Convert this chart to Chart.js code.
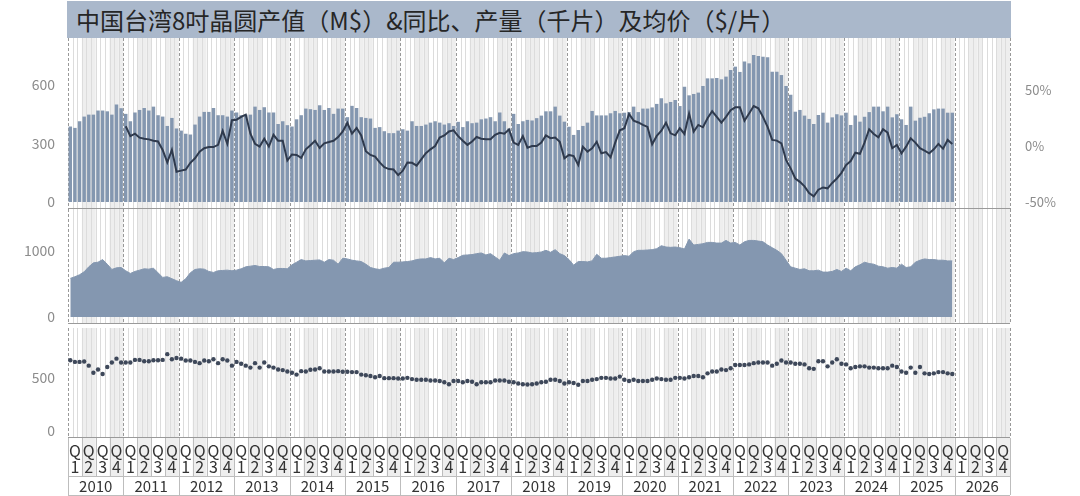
<!DOCTYPE html>
<html>
<head>
<meta charset="utf-8">
<script src="https://cdn.jsdelivr.net/npm/chart.js@4/dist/chart.umd.min.js"></script>
<style>
  body { margin: 0; background: #fff; width: 1080px; height: 496px; overflow: hidden; position: relative; }
  #title { position: absolute; left: 67px; top: 1px; width: 944px; height: 37px; background: #aab8cb; z-index: 5;
           font-family: "Noto Sans CJK SC", sans-serif; font-size: 24px; line-height: 37px; color: #262626; padding-left: 9px; box-sizing: border-box; }
  canvas { position: absolute; left: 0; }
</style>
</head>
<body>
<div id="title">中国台湾8吋晶圆产值（M$）&amp;同比、产量（千片）及均价（$/片）</div>
<canvas id="c1" width="1080" height="171" style="top:38px"></canvas>
<canvas id="c2" width="1080" height="115" style="top:209px"></canvas>
<canvas id="c3" width="1080" height="172" style="top:324px"></canvas>
<script>
// 年份、季度
const years = [2010, 2011, 2012, 2013, 2014, 2015, 2016, 2017, 2018, 2019, 2020, 2021, 2022, 2023, 2024, 2025, 2026];
const quarters = ["1", "2", "3", "4"];

// 月度类目
const monthLabels = [];
years.forEach(function (y) {
  for (let m = 1; m <= 12; m++) monthLabels.push(y + "-" + m);
});

// 产值（M$）
const outputValue = [
  387, 380, 414, 438, 448, 448, 469, 469, 465, 448, 500, 481,
  452, 414, 459, 472, 482, 469, 489, 445, 438, 390, 431, 377,
  366, 350, 346, 397, 438, 462, 462, 482, 445, 445, 438, 469,
  459, 445, 448, 448, 489, 472, 486, 459, 459, 400, 414, 394,
  387, 424, 445, 479, 476, 472, 496, 472, 482, 452, 479, 479,
  435, 493, 482, 435, 431, 428, 380, 384, 363, 353, 353, 366,
  373, 366, 414, 390, 390, 397, 407, 414, 407, 397, 404, 390,
  411, 384, 414, 404, 407, 424, 428, 435, 414, 459, 414, 377,
  452, 400, 414, 421, 418, 430, 443, 465, 465, 489, 443, 412,
  386, 344, 369, 390, 407, 467, 444, 444, 444, 455, 467, 455,
  458, 461, 489, 461, 479, 479, 485, 503, 532, 506, 513, 523,
  492, 591, 547, 554, 561, 595, 634, 634, 636, 629, 643, 677,
  694, 667, 720, 711, 754, 749, 745, 742, 668, 668, 651, 595,
  550, 463, 472, 443, 426, 400, 446, 458, 407, 434, 450, 444,
  458, 395, 444, 412, 437, 461, 489, 489, 465, 489, 434, 450,
  424, 395, 489, 417, 432, 437, 455, 475, 479, 479, 458, 458
];

// 产值同比（%）
const yoyGrowth = [
  null, null, null, null, null, null, null, null, null, null, null, null,
  17.6, 8.8, 11, 7.4, 6.5, 5.9, 4.7, 4, -3.5, -14.7, -3.5, -23,
  -22, -21, -15, -11, -5, -2, -1, -1, 1, 13.5, 2, 23,
  23.5, 26, 28, 11, 2, -0.5, 6.5, -0.5, 10, 4.7, 4.7, -13,
  -7.6, -8, -10.6, -3, 0.6, 4.7, -1.8, 2.4, 3.5, 4.7, 8, 13,
  20.6, 11, 16, 9.4, -4.7, -8, -9.4, -14.7, -19, -20.6, -21, -26,
  -22, -14.7, -15, -17.6, -12, -6.5, -3, 0, 7.6, 9.4, 13, 14,
  8.8, 4.7, 1, 4, 8, 6.5, 6, 6, 10, 11.8, 11, 14.7,
  3, 1, 8.8, -1.5, 0, 0, 3, 9.4, 7, 7.6, 3.8, -11,
  -8, -9, -17, -0.6, -5, -2, 3.8, -6.5, -5.4, -10, 3, 14,
  15.8, 28.6, 22.6, 21, 18.8, 17, 1.5, 9, 13.7, 20.8, 11.3, 9.5,
  15.8, 10.7, 29, 12.8, 18.8, 16.7, 24.7, 31, 26, 20.8, 26, 32,
  34.5, 34.5, 22.6, 29, 35.7, 33.6, 26, 17, 5.4, 4.8, 2.4, -12.5,
  -20, -29, -32, -36, -42, -45, -39, -37, -37.8, -33, -29, -24,
  -17, -13.4, -6, -7, 3, 14.9, 10.7, 7.7, 14.9, 11.9, -2, 0.9,
  -6.5, -0.6, 6.8, 3, -2, -4.2, -6.5, -3, 1.8, -2.4, 5.4, 1.8
];

// 产量（千片）
const waferVolume = [
  585, 610, 640, 685, 760, 820, 830, 870, 800, 720, 745, 750,
  700, 660, 690, 710, 730, 725, 740, 670, 600, 610, 580, 550,
  525, 580, 670, 720, 730, 725, 690, 675, 700, 705, 710, 700,
  710, 730, 760, 770, 780, 765, 765, 760, 720, 735, 735, 730,
  790, 830, 870, 850, 855, 860, 865, 830, 870, 860, 800, 890,
  880, 860, 850, 840, 800, 750, 730, 720, 740, 750, 830, 830,
  835, 840, 850, 870, 880, 880, 900, 880, 890, 820, 890, 870,
  900, 935, 940, 945, 960, 970, 940, 960, 910, 860, 970, 930,
  960, 970, 990, 985, 970, 975, 985, 1010, 980, 1020, 960, 930,
  870, 785, 840, 840, 835, 850, 950, 890, 890, 900, 910, 920,
  930, 920, 990, 1010, 1010, 1015, 1020, 1035, 1080, 1060, 1055, 1060,
  1050, 1030, 1180, 1090, 1100, 1110, 1130, 1130, 1120, 1120, 1160, 1120,
  1130, 1090, 1140, 1160, 1160, 1150, 1140, 1090, 1050, 1010, 960, 860,
  760, 740, 720, 730, 700, 700, 710, 680, 680, 690, 720, 690,
  740, 700, 760, 790, 830, 810, 800, 770, 760, 740, 750, 740,
  800, 750, 760, 830, 860, 880, 870, 870, 860, 860, 850, 850
];

// 均价（$/片）
const avgPrice = [
  672, 656, 656, 659, 620, 552, 583, 540, 607, 650, 687, 650,
  650, 650, 675, 675, 662, 662, 672, 672, 675, 730, 681, 693,
  687, 669, 669, 656, 644, 669, 662, 681, 644, 681, 669, 620,
  656, 638, 620, 601, 644, 601, 650, 613, 601, 583, 577, 564,
  552, 534, 567, 564, 580, 583, 595, 564, 564, 564, 567, 561,
  561, 558, 558, 534, 528, 521, 509, 521, 500, 500, 500, 497,
  497, 503, 491, 485, 485, 485, 478, 478, 472, 460, 442, 472,
  472, 460, 472, 466, 442, 460, 460, 460, 478, 478, 478, 466,
  460, 448, 442, 439, 442, 448, 460, 466, 485, 485, 472, 448,
  460, 454, 436, 472, 472, 485, 491, 503, 503, 497, 497, 515,
  485, 472, 485, 472, 472, 472, 485, 497, 491, 485, 485, 503,
  503, 497, 509, 521, 521, 509, 546, 564, 564, 583, 577, 595,
  626, 626, 626, 632, 644, 650, 650, 650, 620, 638, 669, 650,
  650, 638, 638, 632, 595, 589, 662, 662, 613, 650, 681, 638,
  632, 595, 607, 613, 613, 601, 601, 595, 595, 595, 620, 607,
  564, 552, 601, 552, 607, 546, 540, 546, 558, 558, 546, 540
];

// 刻度
const valueTicks = [0, 300, 600];
const yoyTicks = [-50, 0, 50];
const volumeTicks = [0, 1000];
const priceTicks = [0, 500];

const FONT = '"Noto Sans CJK SC", sans-serif';
const BAR = "#8497b0";

// 背景：季度灰带、月线、年份虚线
const bandPlugin = {
  id: "bands",
  beforeDatasetsDraw(chart) {
    const { ctx, chartArea: a, scales } = chart;
    const x = scales.x;
    ctx.save();
    for (let i = 0; i < monthLabels.length; i++) {
      const x0 = x.getPixelForValue(i - 0.5);
      const x1 = x.getPixelForValue(i + 0.5);
      if (Math.floor((i % 12) / 3) % 2 === 1) {
        ctx.fillStyle = "#eeeeee";
        ctx.fillRect(x0, a.top, x1 - x0, a.bottom - a.top);
      }
    }
    ctx.lineWidth = 1;
    for (let i = 0; i <= monthLabels.length; i++) {
      const px = Math.round(x.getPixelForValue(i - 0.5)) + 0.5;
      ctx.beginPath();
      if (i % 12 === 0) {
        ctx.strokeStyle = "#999999";
        ctx.setLineDash([3, 2]);
      } else {
        ctx.strokeStyle = "#dcdcdc";
        ctx.setLineDash([]);
      }
      ctx.moveTo(px, a.top);
      ctx.lineTo(px, a.bottom);
      ctx.stroke();
    }
    ctx.setLineDash([]);
    ctx.strokeStyle = "#9a9a9a";
    ctx.beginPath();
    ctx.moveTo(a.left, Math.round(a.bottom) - 0.5);
    ctx.lineTo(a.right, Math.round(a.bottom) - 0.5);
    ctx.stroke();
    ctx.restore();
  }
};

// 底部季度/年份表头
const tablePlugin = {
  id: "table",
  afterDraw(chart) {
    const { ctx, chartArea: a, scales } = chart;
    const x = scales.x;
    const top = a.bottom, mid = a.bottom + 38, bot = a.bottom + 57;
    ctx.save();
    for (let q = 0; q < years.length * 4; q++) {
      const x0 = x.getPixelForValue(q * 3 - 0.5);
      const x1 = x.getPixelForValue(q * 3 + 2.5);
      if (q % 2 === 1) {
        ctx.fillStyle = "#eeeeee";
        ctx.fillRect(x0, top, x1 - x0, mid - top);
      }
    }
    ctx.strokeStyle = "#bdbdbd";
    ctx.lineWidth = 1;
    for (let q = 0; q <= years.length * 4; q++) {
      const px = Math.round(x.getPixelForValue(q * 3 - 0.5)) + 0.5;
      ctx.beginPath();
      ctx.moveTo(px, top);
      ctx.lineTo(px, q % 4 === 0 ? bot : mid);
      ctx.stroke();
    }
    [mid, bot].forEach(function (yy) {
      ctx.beginPath();
      ctx.moveTo(a.left, yy + 0.5);
      ctx.lineTo(a.right, yy + 0.5);
      ctx.stroke();
    });
    ctx.fillStyle = "#333";
    ctx.textAlign = "center";
    ctx.textBaseline = "middle";
    ctx.font = "16px " + FONT;
    for (let q = 0; q < years.length * 4; q++) {
      const cx = x.getPixelForValue(q * 3 + 1);
      ctx.fillText("Q", cx, top + 13);
      ctx.fillText(quarters[q % 4], cx, top + 29);
    }
    ctx.font = "15px " + FONT;
    years.forEach(function (y, k) {
      ctx.fillText(String(y), x.getPixelForValue(k * 12 + 5.5), mid + 10);
    });
    ctx.restore();
  }
};

function fixedTicks(list) {
  return function (s) { s.ticks = list.map(function (v) { return { value: v }; }); };
}

function fitTo(w) {
  return function (s) { s.width = w; s.paddingTop = 0; s.paddingBottom = 0; };
}

function leftAxis(min, max, list) {
  return {
    position: "left", min: min, max: max,
    afterBuildTicks: fixedTicks(list),
    afterFit: fitTo(68),
    grid: { display: false, drawTicks: false },
    border: { display: false },
    ticks: { color: "#8c8c8c", padding: 13, font: { family: FONT, size: 14 },
             callback: function (v) { return String(v); } }
  };
}

const baseOptions = function (padBottom, padRight) {
  return {
    responsive: false,
    animation: false,
    layout: { padding: { top: 0, bottom: padBottom, left: 0, right: padRight } },
    plugins: { legend: { display: false }, tooltip: { enabled: false } },
    events: []
  };
};

// 图1：产值 + 同比
const opt1 = baseOptions(0, 0);
opt1.scales = {
  x: { display: false, offset: true },
  y: leftAxis(-36, 841, valueTicks),
  yPct: {
    position: "right", min: -56.25, max: 96.4,
    afterBuildTicks: fixedTicks(yoyTicks),
    afterFit: fitTo(70),
    grid: { display: false, drawTicks: false },
    border: { display: false },
    ticks: { color: "#8c8c8c", padding: 15, font: { family: FONT, size: 13 },
             callback: function (v) { return v + "%"; } }
  }
};
new Chart(document.getElementById("c1"), {
  data: {
    labels: monthLabels,
    datasets: [
      { type: "line", data: yoyGrowth, yAxisID: "yPct", borderColor: "#2f3a4d", borderWidth: 2,
        pointRadius: 0, tension: 0, order: 0 },
      { type: "bar", data: outputValue, yAxisID: "y", backgroundColor: BAR,
        barPercentage: 0.75, categoryPercentage: 1, order: 1 }
    ]
  },
  options: opt1,
  plugins: [bandPlugin]
});

// 图2：产量
const opt2 = baseOptions(0, 70);
opt2.scales = { x: { display: false, offset: true }, y: leftAxis(-106, 1636, volumeTicks) };
new Chart(document.getElementById("c2"), {
  type: "line",
  data: {
    labels: monthLabels,
    datasets: [
      { data: waferVolume, fill: "origin", backgroundColor: BAR, borderColor: BAR, borderWidth: 1,
        pointRadius: 0, tension: 0 }
    ]
  },
  options: opt2,
  plugins: [bandPlugin]
});

// 图3：均价
const opt3 = baseOptions(58, 70);
opt3.scales = { x: { display: false, offset: true }, y: leftAxis(-74, 981, priceTicks) };
new Chart(document.getElementById("c3"), {
  type: "line",
  data: {
    labels: monthLabels,
    datasets: [
      { data: avgPrice, showLine: false, pointRadius: 2.2, pointBackgroundColor: "#3e485a",
        pointBorderWidth: 0 }
    ]
  },
  options: opt3,
  plugins: [bandPlugin, tablePlugin]
});
</script>
</body>
</html>
